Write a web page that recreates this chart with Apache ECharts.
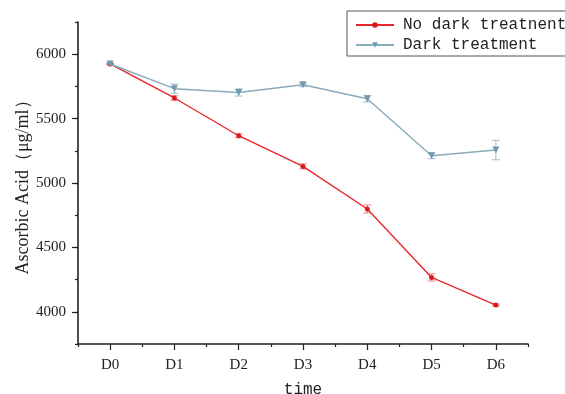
<!DOCTYPE html>
<html>
<head>
<meta charset="utf-8">
<script src="https://cdn.jsdelivr.net/npm/echarts@6/dist/echarts.min.js"></script>
<style>
  html, body { margin: 0; padding: 0; background: #fff; }
  #chart { width: 565px; height: 394px; }
</style>
</head>
<body>
<div id="chart"></div>
<script>
// Ascorbic acid content over storage days
const categories = ['D0', 'D1', 'D2', 'D3', 'D4', 'D5', 'D6'];
const noDark = [5924, 5660, 5367, 5129, 4798, 4267, 4052];
const noDarkErr = [5, 18, 15, 20, 31, 28, 8];
const dark = [5924, 5732, 5703, 5763, 5654, 5212, 5256];
const darkErr = [5, 36, 28, 15, 25, 23, 75];
const yTickLabels = [4000, 4500, 5000, 5500, 6000];
const seriesNames = ['No dark treatnent', 'Dark treatment'];

const serif = '"Liberation Serif", "DejaVu Serif", serif';
const mono = '"Liberation Mono", "DejaVu Sans Mono", monospace';

function errorBars(values, errs, color) {
  return {
    type: 'custom',
    z: 1,
    silent: true,
    encode: { x: 0, y: [1, 2] },
    data: values.map((v, i) => [i, v - errs[i], v + errs[i]]),
    renderItem(params, api) {
      const lo = api.coord([api.value(0), api.value(1)]);
      const hi = api.coord([api.value(0), api.value(2)]);
      const half = 4;
      const style = { stroke: color, lineWidth: 1.2 };
      return {
        type: 'group',
        children: [
          { type: 'line', shape: { x1: lo[0], y1: lo[1], x2: hi[0], y2: hi[1] }, style },
          { type: 'line', shape: { x1: lo[0] - half, y1: lo[1], x2: lo[0] + half, y2: lo[1] }, style },
          { type: 'line', shape: { x1: hi[0] - half, y1: hi[1], x2: hi[0] + half, y2: hi[1] }, style }
        ]
      };
    }
  };
}

const chart = echarts.init(document.getElementById('chart'), null, { renderer: 'canvas' });
chart.setOption({
  animation: false,
  backgroundColor: '#fff',
  grid: { left: 78, right: 37, top: 22, bottom: 50, containLabel: false, outerBoundsMode: 'none' },
  legend: {
    orient: 'vertical',
    left: 347,
    top: 11,
    padding: [6, 10, 3, 8],
    itemGap: 4,
    itemWidth: 38,
    itemHeight: 7,
    borderColor: '#555',
    borderWidth: 1,
    data: seriesNames,
    textStyle: { fontFamily: mono, fontSize: 16, color: '#222', lineHeight: 16, padding: [0, 0, 0, 4] }
  },
  xAxis: [
    {
      type: 'category',
      data: categories,
      position: 'bottom',
      boundaryGap: true,
      name: 'time',
      nameLocation: 'middle',
      nameGap: 38,
      nameMoveOverlap: false,
      nameTextStyle: { fontFamily: mono, fontSize: 16, color: '#222' },
      axisLine: { show: true, lineStyle: { color: '#222', width: 1.6 } },
      axisTick: { show: true, alignWithLabel: true, length: 6, lineStyle: { color: '#222', width: 1.2 } },
      axisLabel: { fontFamily: serif, fontSize: 15, color: '#222', margin: 14 },
      splitLine: { show: false }
    },
    {
      type: 'category',
      data: categories,
      position: 'bottom',
      offset: 0,
      boundaryGap: true,
      axisLine: { show: false },
      axisTick: { show: true, alignWithLabel: false, length: 3, lineStyle: { color: '#222', width: 1.2 } },
      axisLabel: { show: false },
      splitLine: { show: false }
    }
  ],
  yAxis: [
    {
      type: 'value',
      min: 3750,
      max: 6250,
      interval: 250,
      position: 'left',
      name: 'Ascorbic Acid（μg/ml）',
      nameLocation: 'middle',
      nameGap: 46,
      nameMoveOverlap: false,
      nameTextStyle: { fontFamily: serif, fontSize: 18, color: '#222' },
      axisLine: { show: true, lineStyle: { color: '#222', width: 1.6 } },
      axisTick: { show: true, length: 3, lineStyle: { color: '#222', width: 1.2 } },
      axisLabel: {
        fontFamily: serif, fontSize: 15, color: '#222', margin: 12,
        formatter: v => (yTickLabels.indexOf(v) >= 0 ? String(v) : '')
      },
      splitLine: { show: false }
    },
    {
      type: 'value',
      min: 3750,
      max: 6250,
      interval: 250,
      position: 'left',
      offset: 0,
      axisLine: { show: false },
      axisTick: { show: true, length: 6, customValues: yTickLabels, lineStyle: { color: '#222', width: 1.2 } },
      axisLabel: { show: false },
      splitLine: { show: false }
    }
  ],
  series: [
    errorBars(noDark, noDarkErr, 'rgba(226, 70, 75, 0.55)'),
    errorBars(dark, darkErr, 'rgba(125, 165, 182, 0.6)'),
    {
      name: seriesNames[0],
      type: 'line',
      z: 3,
      data: noDark,
      symbol: 'circle',
      symbolSize: 5,
      lineStyle: { color: '#e8262b', width: 1.4 },
      itemStyle: { color: '#d8191f' }
    },
    {
      name: seriesNames[1],
      type: 'line',
      z: 4,
      data: dark,
      symbol: 'triangle',
      symbolRotate: 180,
      symbolSize: 7,
      lineStyle: { color: '#88abba', width: 1.4 },
      itemStyle: { color: '#6f9bb0' }
    }
  ]
});
</script>
</body>
</html>
